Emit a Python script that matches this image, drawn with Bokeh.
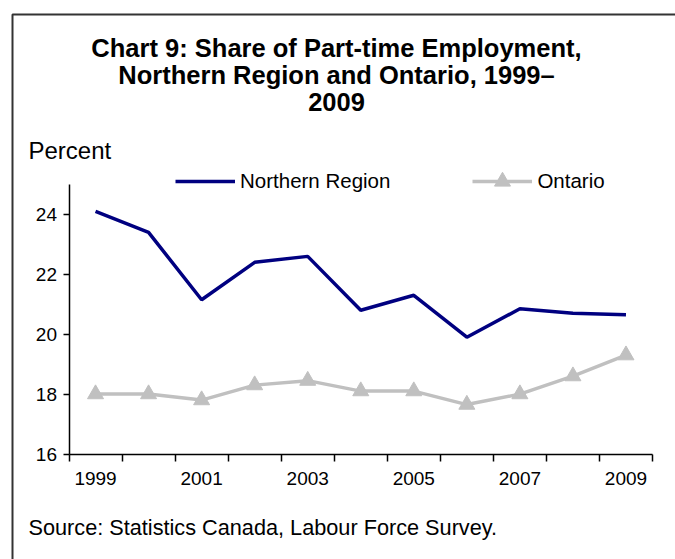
from bokeh.plotting import figure
from bokeh.models import FixedTicker, Label, Legend, LegendItem, Range1d, ColumnDataSource, BoxAnnotation
from bokeh.embed import file_html
from bokeh.resources import INLINE

years = [1999, 2000, 2001, 2002, 2003, 2004, 2005, 2006, 2007, 2008, 2009]
northern = [24.1, 23.4, 21.15, 22.4, 22.6, 20.8, 21.3, 19.9, 20.85, 20.7, 20.65]
ontario = [18.0, 18.0, 17.8, 18.3, 18.45, 18.1, 18.1, 17.65, 18.0, 18.6, 19.3]
y_ticks = [16, 18, 20, 22, 24]
y_min, y_max = 16, 25
x_label_years = [1999, 2001, 2003, 2005, 2007, 2009]
title_lines = ["Chart 9: Share of Part-time Employment,", "Northern Region and Ontario, 1999\u2013", "2009"]
series_names = ["Northern Region", "Ontario"]

FONT = "Liberation Sans"
W, H = 675, 559
# plot-area box inside the canvas (pixels)
FL, FR, FT, FB = 68.5, 652.0, 184.0, 453.5

x0, x1 = years[0] - 0.5, years[-1] + 0.5
xs = (x1 - x0) / (FR - FL)
ys = (y_max - y_min) / (FB - FT)
xr = Range1d(x0 - FL * xs, x1 + (W - FR) * xs)
yr = Range1d(y_min - (H - FB) * ys, y_max + FT * ys)

p = figure(width=W, height=H, output_backend="svg", toolbar_location=None,
           x_range=xr, y_range=yr,
           min_border_left=0, min_border_right=0, min_border_top=0, min_border_bottom=0)
p.outline_line_color = None
p.xgrid.visible = False
p.ygrid.visible = False
p.background_fill_color = "white"
p.border_fill_color = "white"

p.add_layout(BoxAnnotation(left=12, right=W + 20, top=H - 14, bottom=-20,
                           left_units="screen", right_units="screen",
                           top_units="screen", bottom_units="screen",
                           fill_alpha=0, line_color="#333333", line_alpha=1.0, line_width=2))

src = ColumnDataSource(dict(x=years, n=northern, o=ontario))
r1 = p.line("x", "n", source=src, line_color="#000080", line_width=3.5)
r2 = p.line("x", "o", source=src, line_color="#C0C0C0", line_width=3.5)
r3 = p.scatter("x", "o", source=src, marker="triangle", size=16, fill_color="#C0C0C0", line_color="#C0C0C0")

xa = p.xaxis[0]
xa.fixed_location = y_min
xa.bounds = (x0, x1)
xa.ticker = FixedTicker(ticks=x_label_years, minor_ticks=[y - 0.5 for y in years] + [x1])
xa.major_tick_out = 0
xa.major_tick_in = 0
xa.minor_tick_out = 7
xa.minor_tick_in = 0
xa.minor_tick_line_color = "black"
xa.minor_tick_line_width = 1.5
xa.axis_line_color = "black"
xa.axis_line_width = 1.5
xa.major_label_text_font = FONT
xa.major_label_text_font_size = "19px"
xa.major_label_text_color = "black"
xa.major_label_standoff = 11

ya = p.yaxis[0]
ya.fixed_location = x0
ya.bounds = (y_min, y_max)
ya.ticker = FixedTicker(ticks=y_ticks, minor_ticks=[])
ya.major_tick_out = 6
ya.major_tick_in = 0
ya.major_tick_line_color = "black"
ya.major_tick_line_width = 1.5
ya.axis_line_color = "black"
ya.axis_line_width = 1.5
ya.major_label_text_font = FONT
ya.major_label_text_font_size = "19px"
ya.major_label_text_color = "black"
ya.major_label_standoff = 6

for t, yb in zip(title_lines, [512, 485, 458]):
    p.add_layout(Label(x=336, y=yb, x_units="screen", y_units="screen", text=t,
                       text_align="center", text_baseline="alphabetic",
                       text_font=FONT, text_font_size="25.5px", text_font_style="bold",
                       text_color="black"))

p.add_layout(Label(x=28, y=409, x_units="screen", y_units="screen", text="Percent",
                   text_align="left", text_baseline="alphabetic",
                   text_font=FONT, text_font_size="24px", text_color="black"))
p.add_layout(Label(x=28, y=32, x_units="screen", y_units="screen",
                   text="Source:  Statistics Canada, Labour Force Survey.",
                   text_align="left", text_baseline="alphabetic",
                   text_font=FONT, text_font_size="21.7px", text_color="black"))

legend = Legend(items=[LegendItem(label=series_names[0], renderers=[r1]),
                       LegendItem(label=series_names[1], renderers=[r2, r3])],
                location=(175, 358), orientation="horizontal",
                glyph_width=60, glyph_height=40, label_height=40, label_standoff=5, spacing=82,
                padding=0, margin=0, border_line_color=None, background_fill_alpha=0,
                label_text_font=FONT, label_text_font_size="20.5px", label_text_color="black")
p.add_layout(legend)

open("out.html", "w").write(file_html(p, INLINE))
